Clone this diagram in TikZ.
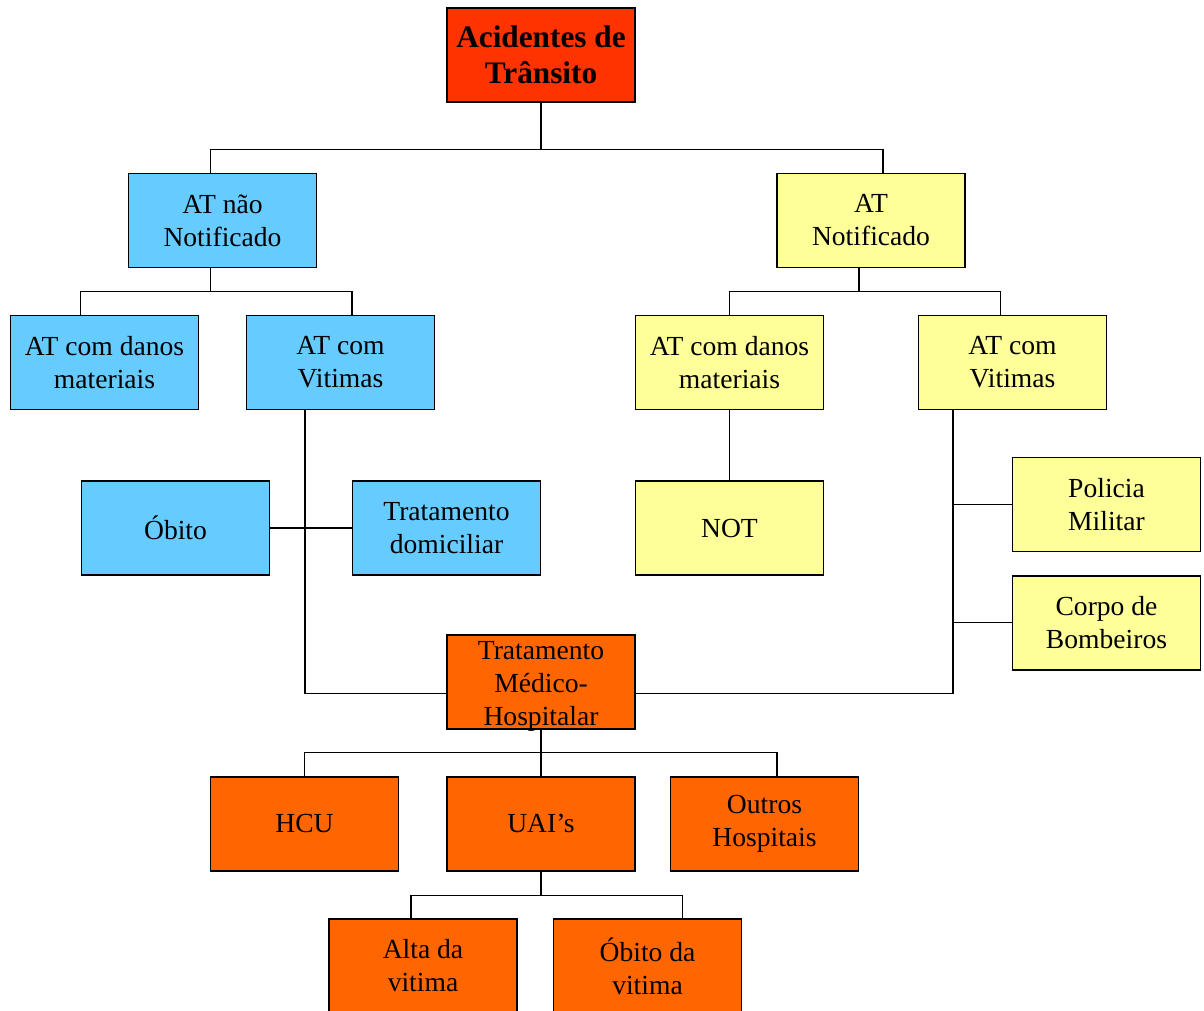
\documentclass[tikz,border=0pt]{standalone}
\usepackage{fontspec}
\setmainfont{Liberation Serif}
\usetikzlibrary{calc}
\definecolor{atblue}{HTML}{66CCFF}
\definecolor{atyellow}{HTML}{FFFF99}
\definecolor{atorange}{HTML}{FF6600}
\definecolor{atred}{HTML}{FF3300}

\begin{document}
\begin{tikzpicture}[x=0.02cm,y=-0.02cm,line width=0.6pt,
  box/.style={draw,line width=0.8pt,minimum width=3.76cm,minimum height=1.88cm,
    inner sep=0pt,align=center,font=\fontsize{15.7}{18.8}\selectfont}]
  \useasboundingbox (0,0) rectangle (1204,1011);
  \node[box,fill=atred,font=\bfseries\fontsize{17.8}{20.8}\selectfont] (root) at (541,55) {Acidentes de\\Trânsito};
  \foreach \n/\p/\t in {nao/{222.5,220.5}/{AT não\\Notificado}, danL/{104.5,362.5}/{AT com danos\\materiais},
      vitL/{340.5,362.5}/{AT com\\Vitimas}, obito/{175.5,528}/{Óbito}, domic/{446.5,528}/{Tratamento\\domiciliar}}
    \node[box,fill=atblue] (\n) at (\p) {\t};
  \foreach \n/\p/\t in {notif/{871,220.5}/{AT\\Notificado}, danR/{729.5,362.5}/{AT com danos\\materiais},
      vitR/{1012.5,362.5}/{AT com\\Vitimas}, notb/{729.5,528}/{NOT}, pm/{1106.5,504.3}/{Policia\\Militar},
      cb/{1106.5,622.8}/{Corpo de\\Bombeiros}}
    \node[box,fill=atyellow] (\n) at (\p) {\t};
  \node[box,fill=atorange,label={[align=center,font=\fontsize{15.7}{18.8}\selectfont,yshift=-0.1cm]center:Tratamento\\Médico-\\Hospitalar}] (tmh) at (541,681.8) {};
  \foreach \n/\p/\t in {hcu/{304.5,823.8}/{HCU}, uai/{541,823.8}/{UAI’s}, outros/{764.5,823.8}/{Outros\\Hospitais},
      alta/{423,966}/{Alta da\\vitima}, obv/{647.5,966}/{Óbito da\\vitima}}
    \node[box,fill=atorange] (\n) at (\p) {\t};

  \draw (root.south) -- ++(0,47) coordinate (b1);
  \draw ($(nao.north)+(-12,0)$) |- (b1) -| ($(notif.north)+(12,0)$);
  \draw ($(nao.south)+(-12,0)$) -- ++(0,23) coordinate (b2);
  \draw ($(danL.north)+(-24,0)$) |- (b2) -| ($(vitL.north)+(11.5,0)$);
  \draw ($(notif.south)+(-12,0)$) -- ++(0,23) coordinate (b3);
  \draw (danR.north) |- (b3) -| ($(vitR.north)+(-12,0)$);
  \draw (danR) -- (notb);
  \draw (obito) -- (domic);
  \draw ($(vitL.south)+(-35.5,0)$) |- ($(tmh.west)+(0,11.5)$);
  \draw ($(vitR.south)+(-59.5,0)$) coordinate (vr) |- ($(tmh.east)+(0,11.5)$);
  \draw (pm.west) -- (pm.west -| vr);
  \draw (cb.west) -- (cb.west -| vr);
  \draw (tmh.south) -- ++(0,23) coordinate (b4);
  \draw (hcu.north) |- (b4) -| ($(outros.north)+(12.5,0)$);
  \draw (b4) -- (uai);
  \draw (uai.south) -- ++(0,24) coordinate (b5);
  \draw ($(alta.north)+(-12,0)$) |- (b5) -| ($(obv.north)+(35,0)$);
\end{tikzpicture}
\end{document}
